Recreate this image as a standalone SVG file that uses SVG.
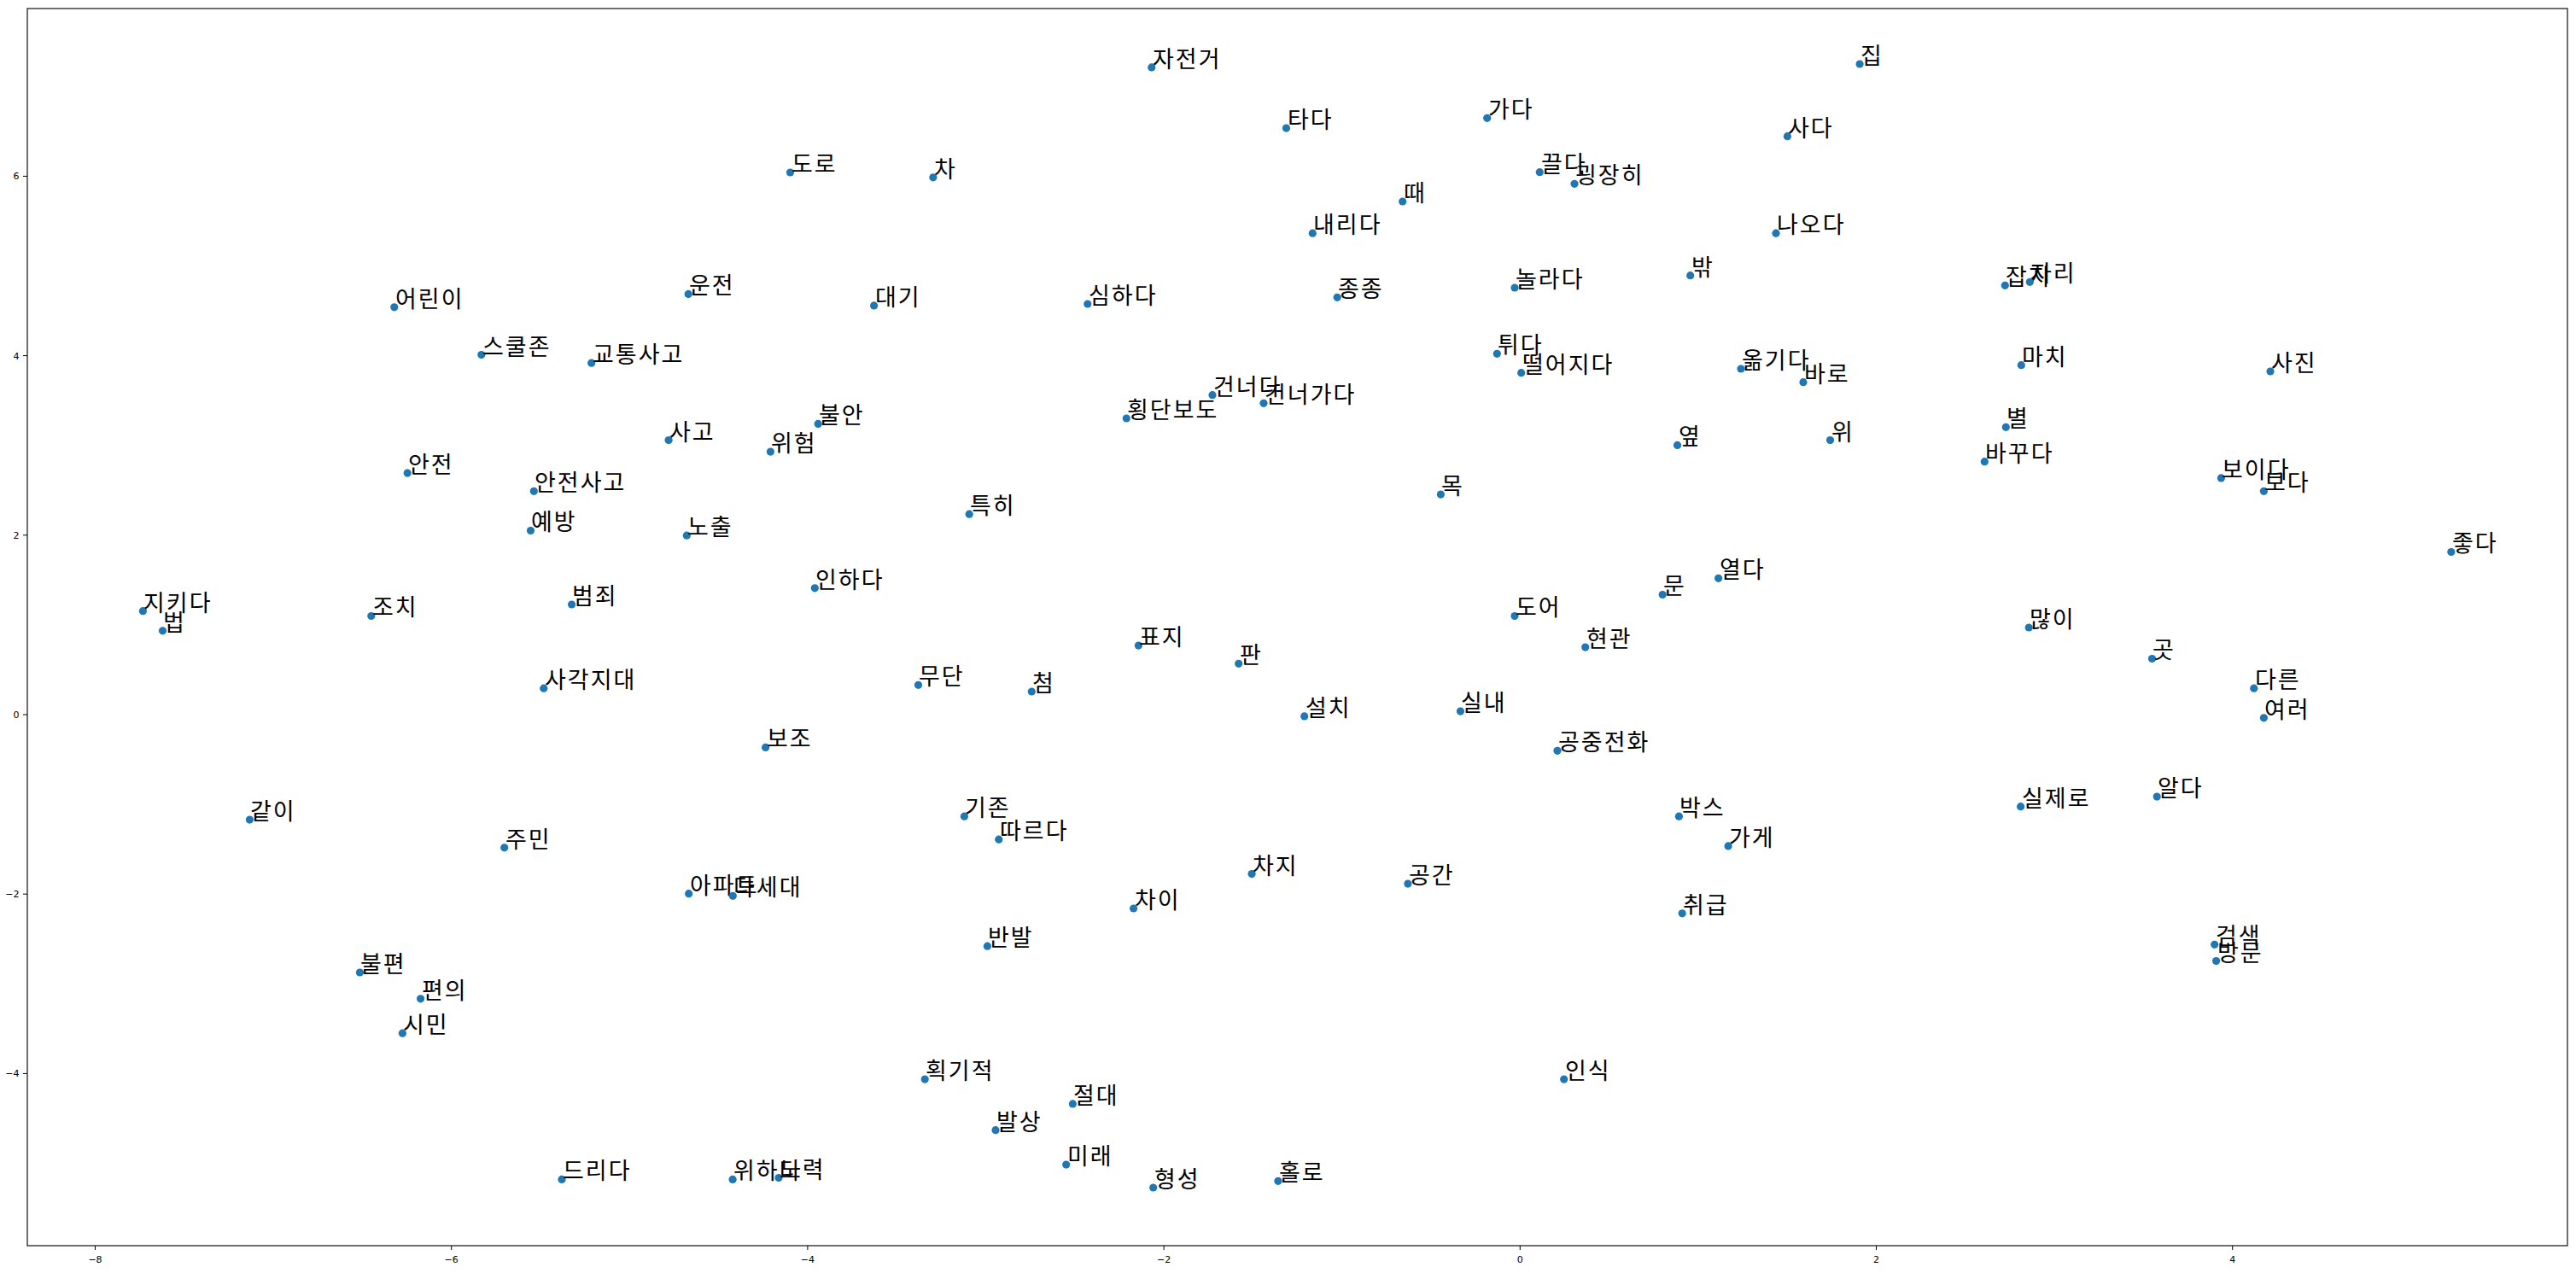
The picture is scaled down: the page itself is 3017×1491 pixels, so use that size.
<svg xmlns="http://www.w3.org/2000/svg" width="3017" height="1491" viewBox="0 0 3017 1491">
<style>
.pt{fill:#1f77b4}
.lb{font-family:"Noto Sans CJK KR","Noto Sans",sans-serif;font-size:27px;letter-spacing:2px;fill:#000}
.tk{font-family:"DejaVu Sans",sans-serif;font-size:11px;fill:#000}
.tl{stroke:#000;stroke-width:1}
</style>
<rect x="0" y="0" width="3017" height="1491" fill="#fff"/>
<g id="axes">
<rect x="32" y="10" width="2975" height="1449" fill="none" stroke="#222" stroke-width="1.3"/>
<g id="xticks">
<line class="tl" x1="111.5" y1="1459" x2="111.5" y2="1464"/><text class="tk" x="111.5" y="1479" text-anchor="middle">−8</text>
<line class="tl" x1="528.7" y1="1459" x2="528.7" y2="1464"/><text class="tk" x="528.7" y="1479" text-anchor="middle">−6</text>
<line class="tl" x1="945.9" y1="1459" x2="945.9" y2="1464"/><text class="tk" x="945.9" y="1479" text-anchor="middle">−4</text>
<line class="tl" x1="1363.1" y1="1459" x2="1363.1" y2="1464"/><text class="tk" x="1363.1" y="1479" text-anchor="middle">−2</text>
<line class="tl" x1="1780.3" y1="1459" x2="1780.3" y2="1464"/><text class="tk" x="1780.3" y="1479" text-anchor="middle">0</text>
<line class="tl" x1="2197.5" y1="1459" x2="2197.5" y2="1464"/><text class="tk" x="2197.5" y="1479" text-anchor="middle">2</text>
<line class="tl" x1="2614.7" y1="1459" x2="2614.7" y2="1464"/><text class="tk" x="2614.7" y="1479" text-anchor="middle">4</text>
</g>
<g id="yticks">
<line class="tl" x1="27" y1="206.4" x2="32" y2="206.4"/><text class="tk" x="22.5" y="210.4" text-anchor="end">6</text>
<line class="tl" x1="27" y1="416.6" x2="32" y2="416.6"/><text class="tk" x="22.5" y="420.6" text-anchor="end">4</text>
<line class="tl" x1="27" y1="626.8" x2="32" y2="626.8"/><text class="tk" x="22.5" y="630.8" text-anchor="end">2</text>
<line class="tl" x1="27" y1="837" x2="32" y2="837"/><text class="tk" x="22.5" y="841" text-anchor="end">0</text>
<line class="tl" x1="27" y1="1047.2" x2="32" y2="1047.2"/><text class="tk" x="22.5" y="1051.2" text-anchor="end">−2</text>
<line class="tl" x1="27" y1="1257.4" x2="32" y2="1257.4"/><text class="tk" x="22.5" y="1261.4" text-anchor="end">−4</text>
</g>
</g>
<g id="points">
<g id="p1"><circle class="pt" cx="1348.8" cy="78.9" r="4.6"/><text class="lb" x="1350" y="79">자전거</text></g>
<g id="p2"><circle class="pt" cx="2178.1" cy="75" r="4.6"/><text class="lb" x="2179" y="75">집</text></g>
<g id="p3"><circle class="pt" cx="1506.5" cy="150.1" r="4.6"/><text class="lb" x="1508" y="150">타다</text></g>
<g id="p4"><circle class="pt" cx="1741.7" cy="138.3" r="4.6"/><text class="lb" x="1743" y="138">가다</text></g>
<g id="p5"><circle class="pt" cx="2093.4" cy="159.7" r="4.6"/><text class="lb" x="2094" y="160">사다</text></g>
<g id="p6"><circle class="pt" cx="925.5" cy="202" r="4.6"/><text class="lb" x="927" y="202">도로</text></g>
<g id="p7"><circle class="pt" cx="1092.9" cy="207.8" r="4.6"/><text class="lb" x="1094" y="208">차</text></g>
<g id="p8"><circle class="pt" cx="1803.3" cy="201.7" r="4.6"/><text class="lb" x="1805" y="202">끌다</text></g>
<g id="p9"><circle class="pt" cx="1844" cy="215.3" r="4.6"/><text class="lb" x="1845" y="215">굉장히</text></g>
<g id="p10"><circle class="pt" cx="1642.7" cy="236" r="4.6"/><text class="lb" x="1644" y="236">때</text></g>
<g id="p11"><circle class="pt" cx="1537.3" cy="273.2" r="4.6"/><text class="lb" x="1538" y="273">내리다</text></g>
<g id="p12"><circle class="pt" cx="2080" cy="273.2" r="4.6"/><text class="lb" x="2081" y="273">나오다</text></g>
<g id="p13"><circle class="pt" cx="1979.7" cy="322.7" r="4.6"/><text class="lb" x="1981" y="323">밖</text></g>
<g id="p14"><circle class="pt" cx="1774" cy="337" r="4.6"/><text class="lb" x="1775" y="337">놀라다</text></g>
<g id="p15"><circle class="pt" cx="2348.3" cy="334.3" r="4.6"/><text class="lb" x="2349" y="334">잡지</text></g>
<g id="p16"><circle class="pt" cx="2377.3" cy="330.3" r="4.6"/><text class="lb" x="2378" y="330">자리</text></g>
<g id="p17"><circle class="pt" cx="2367.3" cy="427.7" r="4.6"/><text class="lb" x="2368" y="428">마치</text></g>
<g id="p18"><circle class="pt" cx="2659" cy="435" r="4.6"/><text class="lb" x="2660" y="435">사진</text></g>
<g id="p19"><circle class="pt" cx="2349.3" cy="500.3" r="4.6"/><text class="lb" x="2350" y="500">별</text></g>
<g id="p20"><circle class="pt" cx="461.8" cy="359.8" r="4.6"/><text class="lb" x="463" y="360">어린이</text></g>
<g id="p21"><circle class="pt" cx="806.2" cy="344.4" r="4.6"/><text class="lb" x="807" y="344">운전</text></g>
<g id="p22"><circle class="pt" cx="1023.6" cy="357.9" r="4.6"/><text class="lb" x="1025" y="358">대기</text></g>
<g id="p23"><circle class="pt" cx="1273.8" cy="356" r="4.6"/><text class="lb" x="1275" y="356">심하다</text></g>
<g id="p24"><circle class="pt" cx="1566.2" cy="348.3" r="4.6"/><text class="lb" x="1567" y="348">종종</text></g>
<g id="p25"><circle class="pt" cx="563.8" cy="415.6" r="4.6"/><text class="lb" x="565" y="416">스쿨존</text></g>
<g id="p26"><circle class="pt" cx="692.7" cy="425.2" r="4.6"/><text class="lb" x="694" y="425">교통사고</text></g>
<g id="p27"><circle class="pt" cx="1753.3" cy="414.3" r="4.6"/><text class="lb" x="1754" y="414">튀다</text></g>
<g id="p28"><circle class="pt" cx="1781.7" cy="436.7" r="4.6"/><text class="lb" x="1783" y="437">떨어지다</text></g>
<g id="p29"><circle class="pt" cx="2039" cy="432" r="4.6"/><text class="lb" x="2040" y="432">옮기다</text></g>
<g id="p30"><circle class="pt" cx="2112" cy="447.7" r="4.6"/><text class="lb" x="2113" y="448">바로</text></g>
<g id="p31"><circle class="pt" cx="1420" cy="462.7" r="4.6"/><text class="lb" x="1421" y="463">건너다</text></g>
<g id="p32"><circle class="pt" cx="1480" cy="472.3" r="4.6"/><text class="lb" x="1481" y="472">건너가다</text></g>
<g id="p33"><circle class="pt" cx="1319.3" cy="490" r="4.6"/><text class="lb" x="1320" y="490">횡단보도</text></g>
<g id="p34"><circle class="pt" cx="958.2" cy="496.4" r="4.6"/><text class="lb" x="959" y="496">불안</text></g>
<g id="p35"><circle class="pt" cx="783.1" cy="515.6" r="4.6"/><text class="lb" x="784" y="516">사고</text></g>
<g id="p36"><circle class="pt" cx="902.4" cy="529.1" r="4.6"/><text class="lb" x="903" y="529">위험</text></g>
<g id="p37"><circle class="pt" cx="1964.5" cy="521.4" r="4.6"/><text class="lb" x="1966" y="521">옆</text></g>
<g id="p38"><circle class="pt" cx="2143.5" cy="515.6" r="4.6"/><text class="lb" x="2145" y="516">위</text></g>
<g id="p39"><circle class="pt" cx="2324.3" cy="540.7" r="4.6"/><text class="lb" x="2325" y="541">바꾸다</text></g>
<g id="p40"><circle class="pt" cx="477.2" cy="554.1" r="4.6"/><text class="lb" x="478" y="554">안전</text></g>
<g id="p41"><circle class="pt" cx="625.3" cy="575.3" r="4.6"/><text class="lb" x="626" y="575">안전사고</text></g>
<g id="p42"><circle class="pt" cx="1687.4" cy="579.1" r="4.6"/><text class="lb" x="1688" y="579">목</text></g>
<g id="p43"><circle class="pt" cx="2601.4" cy="559.9" r="4.6"/><text class="lb" x="2602" y="560">보이다</text></g>
<g id="p44"><circle class="pt" cx="2651.4" cy="575.3" r="4.6"/><text class="lb" x="2652" y="575">보다</text></g>
<g id="p45"><circle class="pt" cx="1135.2" cy="602.2" r="4.6"/><text class="lb" x="1136" y="602">특히</text></g>
<g id="p46"><circle class="pt" cx="621.5" cy="621.5" r="4.6"/><text class="lb" x="622" y="621">예방</text></g>
<g id="p47"><circle class="pt" cx="804.3" cy="627.2" r="4.6"/><text class="lb" x="805" y="627">노출</text></g>
<g id="p48"><circle class="pt" cx="2870.8" cy="646.5" r="4.6"/><text class="lb" x="2872" y="646">좋다</text></g>
<g id="p49"><circle class="pt" cx="2012.6" cy="677.3" r="4.6"/><text class="lb" x="2014" y="677">열다</text></g>
<g id="p50"><circle class="pt" cx="1947.2" cy="696.5" r="4.6"/><text class="lb" x="1948" y="696">문</text></g>
<g id="p51"><circle class="pt" cx="954.3" cy="688.8" r="4.6"/><text class="lb" x="955" y="689">인하다</text></g>
<g id="p52"><circle class="pt" cx="167.4" cy="715.7" r="4.6"/><text class="lb" x="168" y="716">지키다</text></g>
<g id="p53"><circle class="pt" cx="190.5" cy="738.8" r="4.6"/><text class="lb" x="191" y="739">법</text></g>
<g id="p54"><circle class="pt" cx="434.8" cy="721.5" r="4.6"/><text class="lb" x="436" y="721">조치</text></g>
<g id="p55"><circle class="pt" cx="669.6" cy="708" r="4.6"/><text class="lb" x="670" y="708">범죄</text></g>
<g id="p56"><circle class="pt" cx="1774" cy="721.5" r="4.6"/><text class="lb" x="1775" y="721">도어</text></g>
<g id="p57"><circle class="pt" cx="2376.2" cy="735" r="4.6"/><text class="lb" x="2377" y="735">많이</text></g>
<g id="p58"><circle class="pt" cx="1333.4" cy="756.1" r="4.6"/><text class="lb" x="1334" y="756">표지</text></g>
<g id="p59"><circle class="pt" cx="1856.7" cy="758.1" r="4.6"/><text class="lb" x="1858" y="758">현관</text></g>
<g id="p60"><circle class="pt" cx="1450.7" cy="777.3" r="4.6"/><text class="lb" x="1452" y="777">판</text></g>
<g id="p61"><circle class="pt" cx="2520.5" cy="771.5" r="4.6"/><text class="lb" x="2521" y="771">곳</text></g>
<g id="p62"><circle class="pt" cx="2639.8" cy="806.2" r="4.6"/><text class="lb" x="2641" y="806">다른</text></g>
<g id="p63"><circle class="pt" cx="636.8" cy="806.2" r="4.6"/><text class="lb" x="638" y="806">사각지대</text></g>
<g id="p64"><circle class="pt" cx="1075.5" cy="802.3" r="4.6"/><text class="lb" x="1076" y="802">무단</text></g>
<g id="p65"><circle class="pt" cx="1208.3" cy="810" r="4.6"/><text class="lb" x="1209" y="810">첨</text></g>
<g id="p66"><circle class="pt" cx="1527.7" cy="838.9" r="4.6"/><text class="lb" x="1529" y="839">설치</text></g>
<g id="p67"><circle class="pt" cx="1710.5" cy="833.1" r="4.6"/><text class="lb" x="1711" y="833">실내</text></g>
<g id="p68"><circle class="pt" cx="2651.4" cy="840.8" r="4.6"/><text class="lb" x="2652" y="841">여러</text></g>
<g id="p69"><circle class="pt" cx="896.6" cy="875.4" r="4.6"/><text class="lb" x="898" y="875">보조</text></g>
<g id="p70"><circle class="pt" cx="1824" cy="879.3" r="4.6"/><text class="lb" x="1825" y="879">공중전화</text></g>
<g id="p71"><circle class="pt" cx="292.4" cy="960.1" r="4.6"/><text class="lb" x="293" y="960">같이</text></g>
<g id="p72"><circle class="pt" cx="1129.4" cy="956.2" r="4.6"/><text class="lb" x="1130" y="956">기존</text></g>
<g id="p73"><circle class="pt" cx="1169.8" cy="983.2" r="4.6"/><text class="lb" x="1171" y="983">따르다</text></g>
<g id="p74"><circle class="pt" cx="1966.4" cy="956.2" r="4.6"/><text class="lb" x="1967" y="956">박스</text></g>
<g id="p75"><circle class="pt" cx="2366.6" cy="944.7" r="4.6"/><text class="lb" x="2368" y="945">실제로</text></g>
<g id="p76"><circle class="pt" cx="2526.2" cy="933.1" r="4.6"/><text class="lb" x="2527" y="933">알다</text></g>
<g id="p77"><circle class="pt" cx="2024.1" cy="990.9" r="4.6"/><text class="lb" x="2025" y="991">가게</text></g>
<g id="p78"><circle class="pt" cx="590.7" cy="992.8" r="4.6"/><text class="lb" x="592" y="993">주민</text></g>
<g id="p79"><circle class="pt" cx="1466.1" cy="1023.6" r="4.6"/><text class="lb" x="1467" y="1024">차지</text></g>
<g id="p80"><circle class="pt" cx="1648.9" cy="1035.1" r="4.6"/><text class="lb" x="1650" y="1035">공간</text></g>
<g id="p81"><circle class="pt" cx="806.7" cy="1046.7" r="4.6"/><text class="lb" x="808" y="1047">아파트</text></g>
<g id="p82"><circle class="pt" cx="858.3" cy="1049.3" r="4.6"/><text class="lb" x="859" y="1049">다세대</text></g>
<g id="p83"><circle class="pt" cx="1327.6" cy="1064" r="4.6"/><text class="lb" x="1329" y="1064">차이</text></g>
<g id="p84"><circle class="pt" cx="1970.2" cy="1069.8" r="4.6"/><text class="lb" x="1971" y="1070">취급</text></g>
<g id="p85"><circle class="pt" cx="1156.4" cy="1108.2" r="4.6"/><text class="lb" x="1157" y="1108">반발</text></g>
<g id="p86"><circle class="pt" cx="2593.7" cy="1106.3" r="4.6"/><text class="lb" x="2595" y="1106">검색</text></g>
<g id="p87"><circle class="pt" cx="2595.6" cy="1125.6" r="4.6"/><text class="lb" x="2597" y="1126">방문</text></g>
<g id="p88"><circle class="pt" cx="421.4" cy="1139" r="4.6"/><text class="lb" x="422" y="1139">불편</text></g>
<g id="p89"><circle class="pt" cx="492.6" cy="1169.8" r="4.6"/><text class="lb" x="494" y="1170">편의</text></g>
<g id="p90"><circle class="pt" cx="471.4" cy="1210.2" r="4.6"/><text class="lb" x="472" y="1210">시민</text></g>
<g id="p91"><circle class="pt" cx="1083.2" cy="1264.1" r="4.6"/><text class="lb" x="1084" y="1264">획기적</text></g>
<g id="p92"><circle class="pt" cx="1831.7" cy="1264.1" r="4.6"/><text class="lb" x="1833" y="1264">인식</text></g>
<g id="p93"><circle class="pt" cx="1256.4" cy="1292.9" r="4.6"/><text class="lb" x="1257" y="1293">절대</text></g>
<g id="p94"><circle class="pt" cx="1166" cy="1323.7" r="4.6"/><text class="lb" x="1167" y="1324">발상</text></g>
<g id="p95"><circle class="pt" cx="1248.7" cy="1364.1" r="4.6"/><text class="lb" x="1250" y="1364">미래</text></g>
<g id="p96"><circle class="pt" cx="658" cy="1381.4" r="4.6"/><text class="lb" x="659" y="1381">드리다</text></g>
<g id="p97"><circle class="pt" cx="858.1" cy="1381.4" r="4.6"/><text class="lb" x="859" y="1381">위하다</text></g>
<g id="p98"><circle class="pt" cx="912" cy="1379.5" r="4.6"/><text class="lb" x="913" y="1380">노력</text></g>
<g id="p99"><circle class="pt" cx="1496.9" cy="1383.3" r="4.6"/><text class="lb" x="1498" y="1383">홀로</text></g>
<g id="p100"><circle class="pt" cx="1350.7" cy="1391" r="4.6"/><text class="lb" x="1352" y="1391">형성</text></g>
</g>
</svg>
